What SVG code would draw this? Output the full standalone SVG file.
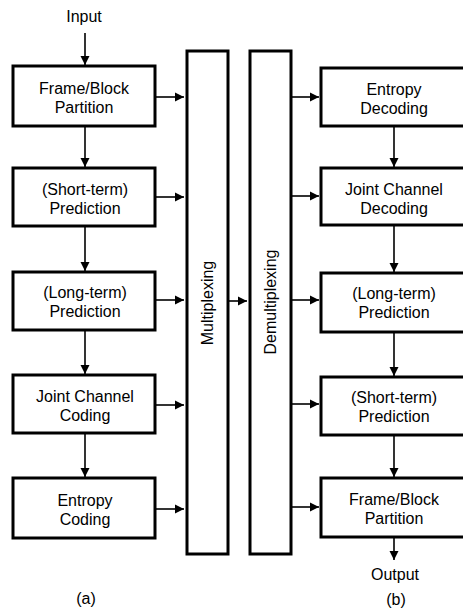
<svg xmlns="http://www.w3.org/2000/svg" width="463" height="611" viewBox="0 0 463 611">
<defs>
<marker id="ah" markerWidth="10" markerHeight="10" refX="9" refY="5" orient="auto" markerUnits="userSpaceOnUse">
<path d="M0,0.5 L9,5 L0,9.5 Z" fill="#000"/>
</marker>
<style>
.box{fill:#fff;stroke:#000;stroke-width:3}
.t{font-family:"Liberation Sans",Arial,sans-serif;font-size:16px;fill:#000;text-anchor:middle}
.c{stroke:#000;stroke-width:1.6;fill:none;marker-end:url(#ah)}
</style>
</defs>
<rect width="463" height="611" fill="#fff"/>
<g id="connectors">
<line class="c" x1="85" y1="33" x2="85" y2="65"/>
<line class="c" x1="85" y1="127" x2="85" y2="167"/>
<line class="c" x1="85" y1="227" x2="85" y2="271"/>
<line class="c" x1="85" y1="331" x2="85" y2="374"/>
<line class="c" x1="85" y1="434" x2="85" y2="477"/>
<line class="c" x1="156" y1="97" x2="184" y2="97"/>
<line class="c" x1="156" y1="197" x2="184" y2="197"/>
<line class="c" x1="156" y1="300" x2="184" y2="300"/>
<line class="c" x1="156" y1="405" x2="184" y2="405"/>
<line class="c" x1="156" y1="509" x2="184" y2="509"/>
<line class="c" x1="229" y1="301" x2="247" y2="301"/>
<line class="c" x1="292" y1="97" x2="319" y2="97"/>
<line class="c" x1="292" y1="196" x2="319" y2="196"/>
<line class="c" x1="292" y1="300" x2="319" y2="300"/>
<line class="c" x1="292" y1="404" x2="319" y2="404"/>
<line class="c" x1="292" y1="507" x2="319" y2="507"/>
<line class="c" x1="394" y1="127" x2="394" y2="167"/>
<line class="c" x1="394" y1="226" x2="394" y2="272"/>
<line class="c" x1="394" y1="333" x2="394" y2="376"/>
<line class="c" x1="394" y1="436" x2="394" y2="477"/>
<line class="c" x1="394" y1="538" x2="394" y2="560"/>
</g>
<text class="t" x="84" y="22">Input</text>
<g id="enc1"><rect class="box" x="13" y="66" width="142" height="60"/><text class="t" x="84" y="94">Frame/Block</text><text class="t" x="84" y="113">Partition</text></g>
<g id="enc2"><rect class="box" x="13" y="168" width="142" height="58"/><text class="t" x="85" y="195">(Short-term)</text><text class="t" x="85" y="214">Prediction</text></g>
<g id="enc3"><rect class="box" x="13" y="272" width="142" height="58"/><text class="t" x="85" y="298">(Long-term)</text><text class="t" x="85" y="317">Prediction</text></g>
<g id="enc4"><rect class="box" x="13" y="375" width="142" height="58"/><text class="t" x="85" y="402">Joint Channel</text><text class="t" x="85" y="421">Coding</text></g>
<g id="enc5"><rect class="box" x="13" y="478" width="142" height="60"/><text class="t" x="85" y="506">Entropy</text><text class="t" x="85" y="525">Coding</text></g>
<g id="mux"><rect class="box" x="187" y="51" width="41" height="503"/><text class="t" transform="translate(213,303) rotate(-90)">Multiplexing</text></g>
<g id="demux"><rect class="box" x="250" y="51" width="41" height="503"/><text class="t" transform="translate(276,302) rotate(-90)">Demultiplexing</text></g>
<g id="dec1"><rect class="box" x="321" y="68" width="150" height="58"/><text class="t" x="394" y="95">Entropy</text><text class="t" x="394" y="114">Decoding</text></g>
<g id="dec2"><rect class="box" x="321" y="168" width="150" height="57"/><text class="t" x="394" y="195">Joint Channel</text><text class="t" x="394" y="214">Decoding</text></g>
<g id="dec3"><rect class="box" x="321" y="273" width="150" height="59"/><text class="t" x="394" y="299">(Long-term)</text><text class="t" x="394" y="318">Prediction</text></g>
<g id="dec4"><rect class="box" x="321" y="377" width="150" height="58"/><text class="t" x="394" y="403">(Short-term)</text><text class="t" x="394" y="422">Prediction</text></g>
<g id="dec5"><rect class="box" x="321" y="478" width="150" height="59"/><text class="t" x="394" y="505">Frame/Block</text><text class="t" x="394" y="524">Partition</text></g>
<text class="t" x="395" y="580">Output</text>
<text class="t" x="86" y="604">(a)</text>
<text class="t" x="396" y="605">(b)</text>
</svg>
